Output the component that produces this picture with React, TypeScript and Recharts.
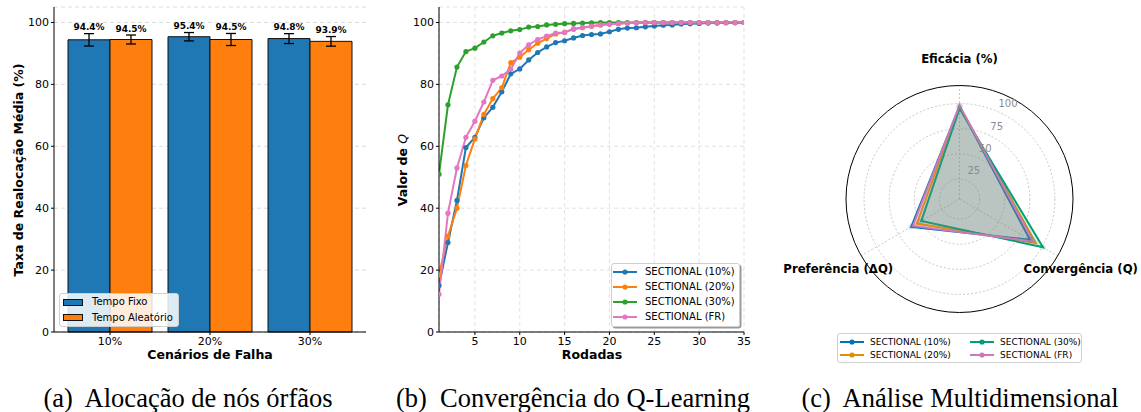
import React from 'react';
import {
  BarChart, Bar, ErrorBar, LabelList, LineChart, Line, XAxis, YAxis, CartesianGrid,
  RadarChart, Radar, PolarGrid, PolarAngleAxis, PolarRadiusAxis,
} from 'recharts';

const FONT = '"DejaVu Sans", sans-serif';
const SERIF = '"Liberation Serif", "Times New Roman", serif';

// (a) alocação
const scenarios = ['10%', '20%', '30%'];
const fixedRate = [94.4, 95.4, 94.8];
const fixedErr = [2.0, 1.35, 1.6];
const randomRate = [94.5, 94.5, 93.9];
const randomErr = [1.45, 1.95, 1.55];

// (b) convergência
const rounds = [1, 2, 3, 4, 5, 6, 7, 8, 9, 10, 11, 12, 13, 14, 15, 16, 17, 18, 19, 20, 21, 22, 23, 24, 25, 26, 27, 28, 29, 30, 31, 32, 33, 34, 35];
const q10 = [15.0, 28.9, 42.5, 59.6, 62.9, 69.2, 72.6, 77.6, 83.4, 85.0, 87.9, 90.3, 92.1, 93.5, 94.1, 95.0, 95.8, 96.1, 96.3, 97.0, 97.8, 98.2, 98.3, 98.6, 98.9, 99.1, 99.2, 99.5, 99.6, 99.7, 99.8, 99.8, 99.9, 99.9, 100];
const q20 = [18.5, 31.0, 40.0, 53.8, 62.4, 70.3, 75.4, 78.9, 87.0, 88.8, 91.2, 93.3, 94.8, 96.3, 96.8, 97.8, 98.3, 98.8, 99.2, 99.5, 99.7, 99.8, 99.9, 100, 100, 100, 100, 100, 100, 100, 100, 100, 100, 100, 100];
const q30 = [51.0, 73.4, 85.6, 90.6, 91.7, 93.7, 95.7, 96.6, 97.3, 97.7, 98.5, 98.7, 99.2, 99.4, 99.6, 99.7, 99.8, 99.9, 100, 100, 100, 100, 100, 100, 100, 100, 100, 100, 100, 100, 100, 100, 100, 100, 100];
const qFR = [12.2, 38.4, 53.0, 62.9, 68.1, 74.3, 81.3, 82.7, 84.9, 90.1, 92.8, 94.5, 95.6, 96.6, 96.8, 98.0, 98.4, 98.8, 99.2, 99.4, 99.6, 99.8, 99.9, 100, 100, 100, 100, 100, 100, 100, 100, 100, 100, 100, 100];
const roundTicks = [5, 10, 15, 20, 25, 30, 35];
const pctTicks = [0, 20, 40, 60, 80, 100];

// (c) radar
const radarMetrics = ['Eficácia (%)', 'Convergência (Q)', 'Preferência (ΔQ)'];
const radar10 = [97.2, 86.0, 60.5];
const radar20 = [97.6, 92.5, 54.0];
const radar30 = [95.0, 101.0, 49.0];
const radarFR = [98.2, 89.5, 58.7];
const radarTicks = [25, 50, 75, 100];

const lineSeries = [
  { key: 's10', name: 'SECTIONAL (10%)', color: '#1f77b4', values: q10 },
  { key: 's20', name: 'SECTIONAL (20%)', color: '#ff7f0e', values: q20 },
  { key: 's30', name: 'SECTIONAL (30%)', color: '#2ca02c', values: q30 },
  { key: 'sfr', name: 'SECTIONAL (FR)', color: '#e377c2', values: qFR },
];

const radarSeries = [
  { key: 's10', name: 'SECTIONAL (10%)', color: '#0173b2', values: radar10 },
  { key: 's20', name: 'SECTIONAL (20%)', color: '#de8f05', values: radar20 },
  { key: 's30', name: 'SECTIONAL (30%)', color: '#029e73', values: radar30 },
  { key: 'sfr', name: 'SECTIONAL (FR)', color: '#cc78bc', values: radarFR },
];

const barData = scenarios.map((s, i) => ({
  scenario: s, fixo: fixedRate[i], fixoErr: fixedErr[i], aleat: randomRate[i], aleatErr: randomErr[i],
}));

const lineData = rounds.map((r, i) => {
  const row: any = { round: r };
  lineSeries.forEach((s) => { row[s.key] = s.values[i]; });
  return row;
});

const radarData = radarMetrics.map((m, i) => {
  const row: any = { metric: m };
  radarSeries.forEach((s) => { row[s.key] = s.values[i]; });
  return row;
});

const RADAR_CX = 189.5;
const RADAR_CY = 199;
const RADAR_R = 113.5;

const tickStyle = { fontSize: 11, fill: '#000', fontFamily: FONT };

// text placed at its centre
const Txt = ({ x, y, children, style, rotate }: any) => (
  <div
    style={{
      position: 'absolute', left: x, top: y, whiteSpace: 'nowrap', lineHeight: 1,
      transform: `translate(-50%, -50%)${rotate ? ` rotate(${rotate}deg)` : ''}`,
      ...style,
    }}
  >
    {children}
  </div>
);

// value label sitting just above the error bar cap
const valueLabel = (rates: number[], errs: number[]) => (props: any) => {
  const { x, y, width, height, value } = props;
  const i = props.index ?? rates.indexOf(Number(value));
  const pxPerUnit = Number(height) / Number(value);
  const capTop = Number(y) - errs[i] * pxPerUnit;
  return (
    <text x={Number(x) + Number(width) / 2} y={capTop - 3.5} textAnchor="middle"
      fontSize={9} fontWeight="bold" fontFamily={FONT} fill="#000">
      {`${Number(value).toFixed(1)}%`}
    </text>
  );
};

const legendBox: React.CSSProperties = {
  position: 'absolute', boxSizing: 'border-box', background: 'rgba(255,255,255,0.85)',
  border: '1px solid #cfcfcf', borderRadius: 3, fontFamily: FONT, color: '#000',
};

const LineKey = ({ color }: { color: string }) => (
  <svg width={24} height={8} style={{ display: 'block' }}>
    <line x1={0} y1={4} x2={24} y2={4} stroke={color} strokeWidth={2} />
    <circle cx={12} cy={4} r={2.6} fill={color} />
  </svg>
);

const RadiusTick = (props: any) => {
  const { x, y, payload } = props;
  const a = (63 * Math.PI) / 180;
  return (
    <text x={Number(x) + 11.5 * Math.cos(a)} y={Number(y) - 11.5 * Math.sin(a)} textAnchor="middle"
      dominantBaseline="central" fontSize={10} fill="#8a8a8a" fontFamily={FONT}>
      {payload.value}
    </text>
  );
};

const AngleTick = (props: any) => {
  const { x, y, payload } = props;
  const cx = props.cx ?? RADAR_CX;
  const cy = props.cy ?? RADAR_CY;
  const dx = Number(x) - cx;
  const dy = Number(y) - cy;
  const k = 140 / Math.hypot(dx, dy);
  return (
    <text x={cx + dx * k} y={cy + dy * k} textAnchor="middle" dominantBaseline="central"
      fontSize={11.7} fontWeight="bold" fill="#000" fontFamily={FONT}>
      {payload.value}
    </text>
  );
};

export default function App() {
  const bold = { fontFamily: FONT, fontWeight: 'bold' as const, fontSize: 12.5, color: '#000' };
  const caption = { fontFamily: SERIF, fontSize: 26.5, color: '#000' };

  return (
    <div style={{ position: 'absolute', left: 0, top: 0, width: 1141, height: 412, background: '#fff', overflow: 'hidden' }}>
      {/* (a) */}
      <div style={{ position: 'absolute', left: 0, top: 0 }}>
        <BarChart width={380} height={370} data={barData} barGap={0} barSize={42}
          margin={{ top: 7, right: 14, bottom: 18, left: 24 }}>
          <CartesianGrid vertical={false} strokeDasharray="4 3" stroke="#dcdcdc" />
          <XAxis dataKey="scenario" padding={{ left: 6, right: 6 }} height={20} tick={tickStyle}
            tickSize={3} tickMargin={2} axisLine={{ stroke: '#000' }} tickLine={{ stroke: '#000' }} />
          <XAxis xAxisId="top" orientation="top" dataKey="scenario" height={0} tick={false}
            tickLine={false} axisLine={{ stroke: '#000' }} />
          <YAxis domain={[0, 105]} ticks={pctTicks} width={30} tick={tickStyle} tickSize={3} tickMargin={2}
            axisLine={{ stroke: '#000' }} tickLine={{ stroke: '#000' }} />
          <YAxis yAxisId="right" orientation="right" domain={[0, 105]} width={0} tick={false}
            tickLine={false} axisLine={{ stroke: '#000' }} />
          <Bar dataKey="fixo" fill="#1f77b4" stroke="#111" strokeWidth={1} isAnimationActive={false}>
            <ErrorBar dataKey="fixoErr" width={5} stroke="#000" strokeWidth={1.3} direction="y" />
            <LabelList dataKey="fixo" content={valueLabel(fixedRate, fixedErr)} />
          </Bar>
          <Bar dataKey="aleat" fill="#ff7f0e" stroke="#111" strokeWidth={1} isAnimationActive={false}>
            <ErrorBar dataKey="aleatErr" width={5} stroke="#000" strokeWidth={1.3} direction="y" />
            <LabelList dataKey="aleat" content={valueLabel(randomRate, randomErr)} />
          </Bar>
        </BarChart>
      </div>
      <Txt x={19} y={170} rotate={-90} style={bold}>Taxa de Realocação Média (%)</Txt>
      <Txt x={210} y={355} style={bold}>Cenários de Falha</Txt>
      <div style={{ ...legendBox, left: 59, top: 293, width: 120, height: 34, fontSize: 10 }}>
        {[{ c: '#1f77b4', t: 'Tempo Fixo' }, { c: '#ff7f0e', t: 'Tempo Aleatório' }].map((e, i) => (
          <div key={e.t} style={{ position: 'absolute', left: 3, top: 4 + i * 15.5, display: 'flex', alignItems: 'center' }}>
            <div style={{ width: 20, height: 7, background: e.c, border: '1px solid #111', boxSizing: 'border-box' }} />
            <span style={{ marginLeft: 9, lineHeight: '8px' }}>{e.t}</span>
          </div>
        ))}
      </div>

      {/* (b) */}
      <div style={{ position: 'absolute', left: 390, top: 0 }}>
        <LineChart width={370} height={370} data={lineData}
          margin={{ top: 7, right: 16, bottom: 18, left: 19 }}>
          <CartesianGrid strokeDasharray="4 3" stroke="#e2e2e2" />
          <XAxis type="number" dataKey="round" domain={[1, 35]} ticks={roundTicks} allowDataOverflow
            height={20} tick={tickStyle} tickSize={3} tickMargin={2}
            axisLine={{ stroke: '#000' }} tickLine={{ stroke: '#000' }} />
          <XAxis xAxisId="top" orientation="top" type="number" dataKey="round" domain={[1, 35]}
            height={0} tick={false} tickLine={false} axisLine={{ stroke: '#000' }} />
          <YAxis domain={[0, 105]} ticks={pctTicks} width={30} tick={tickStyle} tickSize={3} tickMargin={2}
            axisLine={{ stroke: '#000' }} tickLine={{ stroke: '#000' }} />
          <YAxis yAxisId="right" orientation="right" domain={[0, 105]} width={0} tick={false}
            tickLine={false} axisLine={{ stroke: '#000' }} />
          {lineSeries.map((s) => (
            <Line key={s.key} type="linear" dataKey={s.key} name={s.name} stroke={s.color} strokeWidth={2}
              dot={{ r: 2.6, fill: s.color, stroke: s.color, strokeWidth: 0 }} isAnimationActive={false} />
          ))}
        </LineChart>
      </div>
      <Txt x={403} y={170} rotate={-90} style={bold}>
        Valor de <span style={{ fontStyle: 'italic', fontWeight: 'normal' }}>Q</span>
      </Txt>
      <Txt x={592} y={355} style={bold}>Rodadas</Txt>
      <div style={{ ...legendBox, left: 611, top: 263, width: 129, height: 64, fontSize: 10, boxShadow: '1.5px 1.5px 0 #9a9a9a' }}>
        {lineSeries.map((s, i) => (
          <div key={s.key} style={{ position: 'absolute', left: 1, top: 4 + i * 15, display: 'flex', alignItems: 'center' }}>
            <LineKey color={s.color} />
            <span style={{ marginLeft: 8, lineHeight: '8px' }}>{s.name}</span>
          </div>
        ))}
      </div>

      {/* (c) */}
      <div style={{ position: 'absolute', left: 770, top: 0 }}>
        <RadarChart width={371} height={412} data={radarData} cx={RADAR_CX} cy={RADAR_CY}
          outerRadius={RADAR_R} margin={{ top: 0, right: 0, bottom: 0, left: 0 }}>
          <PolarGrid gridType="circle" stroke="#c8c8c8" strokeDasharray="2 2" />
          <PolarAngleAxis dataKey="metric" axisLineType="circle" axisLine={{ stroke: '#000', strokeWidth: 1 }}
            tickLine={false} tick={<AngleTick />} />
          <PolarRadiusAxis angle={63} domain={[5, 117.5]} ticks={radarTicks} axisLine={false}
            tickLine={false} tick={<RadiusTick />} />
          {radarSeries.map((s) => (
            <Radar key={s.key} dataKey={s.key} name={s.name} stroke={s.color} strokeWidth={2}
              fill={s.color} fillOpacity={0.15}
              dot={{ r: 3, fill: s.color, stroke: s.color, strokeWidth: 0 }} isAnimationActive={false} />
          ))}
        </RadarChart>
      </div>
      <div style={{ ...legendBox, left: 837, top: 333, width: 245, height: 30, fontSize: 9 }}>
        {radarSeries.map((s, i) => (
          <div key={s.key} style={{ position: 'absolute', left: i < 2 ? 2 : 132, top: 4 + (i % 2) * 13.3, display: 'flex', alignItems: 'center' }}>
            <LineKey color={s.color} />
            <span style={{ marginLeft: 6, lineHeight: '8px' }}>{s.name}</span>
          </div>
        ))}
      </div>

      {/* legendas */}
      <Txt x={188} y={398} style={caption}>(a)&nbsp; Alocação de nós órfãos</Txt>
      <Txt x={573} y={398} style={caption}>(b)&nbsp; Convergência do Q-Learning</Txt>
      <Txt x={960} y={398} style={caption}>(c)&nbsp; Análise Multidimensional</Txt>
    </div>
  );
}
